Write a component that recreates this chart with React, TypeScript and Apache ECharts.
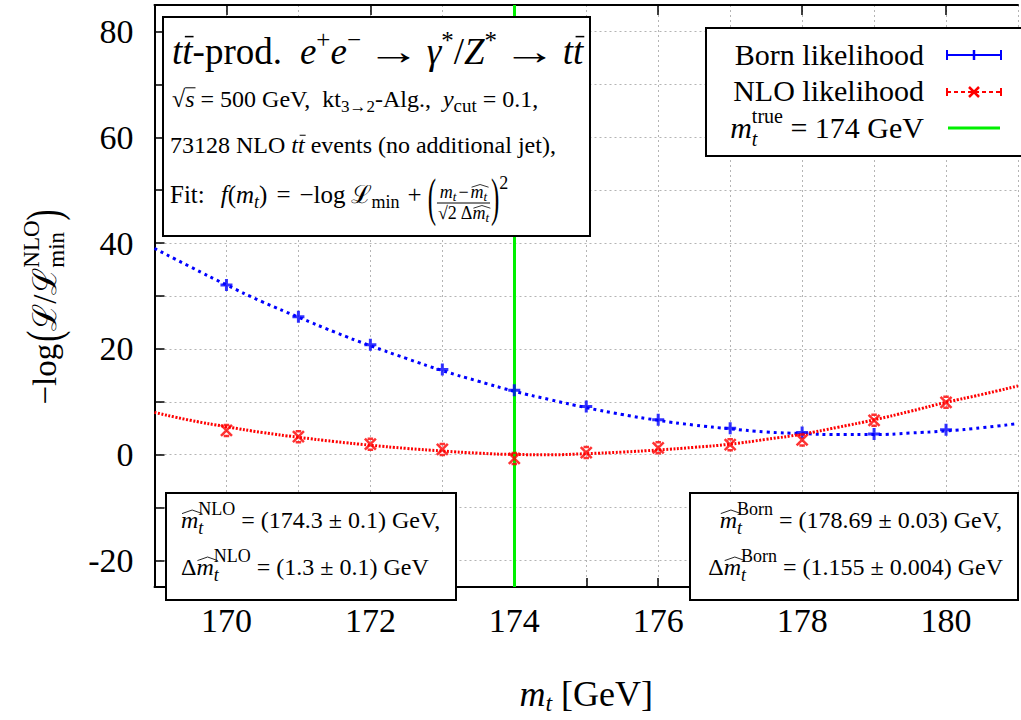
import React, { useEffect, useRef } from "react";
import * as echarts from "echarts";

// ---------------- data ----------------
const massPoints = [170, 171, 172, 173, 174, 175, 176, 177, 178, 179, 180];
const bornLikelihood = [32.1, 26.1, 20.8, 16.1, 12.2, 9.1, 6.6, 5.0, 4.2, 3.9, 4.7];
const nloLikelihood = [4.6, 3.4, 2.0, 1.0, -0.7, 0.4, 1.3, 1.9, 2.8, 6.5, 9.9];
const fitMass = [169, 169.5, 170, 170.5, 171, 171.5, 172, 172.5, 173, 173.5, 174, 174.5, 175, 175.5, 176, 176.5, 177, 177.5, 178, 178.5, 179, 179.5, 180, 180.5, 181];
const bornFit = [39.0, 35.5, 32.1, 28.9, 26.0, 23.2, 20.6, 18.2, 15.9, 13.9, 12.0, 10.4, 8.9, 7.6, 6.5, 5.6, 4.9, 4.3, 4.0, 3.8, 3.8, 4.1, 4.5, 5.1, 5.9];
const nloFit = [8.0, 6.5, 5.3, 4.2, 3.3, 2.5, 1.8, 1.2, 0.7, 0.3, 0.05, 0.0, 0.2, 0.5, 0.9, 1.4, 2.0, 2.9, 3.9, 5.2, 6.6, 8.2, 9.9, 11.4, 13.0];
const trueMass = 174;
const xTopTicks = [170, 172, 174, 176, 178, 180];
const yTickValues = [-20, -10, 0, 10, 20, 30, 40, 50, 60, 70, 80];
const yLabelValues = [-20, 0, 20, 40, 60, 80];

// ---------------- tiny typesetter ----------------
const FAM = '"Liberation Serif", "Times New Roman", "DejaVu Serif", serif';
const CENTRAL = 0.3375;
let measureCtx: CanvasRenderingContext2D | null = null;
const fontStr = (s: number, i?: boolean) => `${i ? "italic " : ""}${s}px ${FAM}`;
function measure(text: string, s: number, i?: boolean): number {
  if (!measureCtx) measureCtx = document.createElement("canvas").getContext("2d");
  measureCtx!.font = fontStr(s, i);
  return measureCtx!.measureText(text).width;
}

type Seg = any;
const T = (t: string, s: number, o: any = {}): Seg => ({ k: "t", t, s, ...o });
const I = (t: string, s: number, o: any = {}): Seg => ({ k: "t", t, s, i: true, ...o });
const SS = (s: number, o: any): Seg => ({ k: "ss", s, ...o });
const G = (w: number): Seg => ({ k: "gap", w });
const FR = (num: Seg[], den: Seg[], numDy: number, denDy: number, barDy: number): Seg => ({ k: "frac", num, den, numDy, denDy, barDy });

function segWidth(g: Seg): number {
  if (g.k === "t") return measure(g.t, g.s, g.i) * (g.sx || 1);
  if (g.k === "ss")
    return Math.max(g.sup ? measure(g.sup, g.s, g.supI) : 0, g.sub ? measure(g.sub, g.s, g.subI) : 0);
  if (g.k === "gap") return g.w;
  return Math.max(lineWidth(g.num), lineWidth(g.den)) + 4;
}
function lineWidth(segs: Seg[]): number {
  return segs.reduce((a, g) => a + segWidth(g), 0);
}
function textEl(text: string, x: number, base: number, s: number, italic: boolean | undefined, z: number, sx = 1, sy = 1) {
  return {
    type: "text",
    x,
    y: base - CENTRAL * s,
    scaleX: sx,
    scaleY: sy,
    z,
    silent: true,
    style: { text, font: fontStr(s, italic), fill: "#000", align: "left", verticalAlign: "middle" },
  };
}
function place(segs: Seg[], x: number, base: number, z: number, out: any[]): number {
  for (const g of segs) {
    const w = segWidth(g);
    if (g.k === "t") {
      const b = base + (g.dy || 0);
      out.push(textEl(g.t, x, b, g.s, g.i, z, g.sx || 1, g.sy || 1));
      if (g.bar) {
        const by = b - g.bar * g.s;
        out.push({
          type: "line", z, silent: true,
          shape: { x1: x + (g.barX0 || 0) * w, y1: by, x2: x + w + (g.barX1 || 0), y2: by },
          style: { stroke: "#000", lineWidth: Math.max(1, g.s / 24) },
        });
      }
      if (g.hat != null) {
        const hw = w + g.hat;
        const y0 = b - 0.6 * g.s;
        out.push({
          type: "polyline", z, silent: true,
          shape: { points: [[x + 1, y0], [x + 1 + hw / 2, y0 - 0.15 * g.s], [x + 1 + hw, y0]] },
          style: { stroke: "#000", fill: "none", lineWidth: Math.max(0.8, g.s / 28) },
        });
      }
    } else if (g.k === "ss") {
      if (g.sup) out.push(textEl(g.sup, x, base + g.supDy, g.s, g.supI, z));
      if (g.sub) out.push(textEl(g.sub, x, base + g.subDy, g.s, g.subI, z));
    } else if (g.k === "frac") {
      const wn = lineWidth(g.num);
      const wd = lineWidth(g.den);
      place(g.num, x + (w - wn) / 2, base + g.numDy, z, out);
      place(g.den, x + (w - wd) / 2, base + g.denDy, z, out);
      out.push({
        type: "line", z, silent: true,
        shape: { x1: x + 1, y1: base + g.barDy, x2: x + w - 1, y2: base + g.barDy },
        style: { stroke: "#000", lineWidth: 1 },
      });
    }
    x += w;
  }
  return x;
}
function typeset(segs: Seg[], x: number, base: number, align: string, z: number): any[] {
  const w = lineWidth(segs);
  const x0 = align === "right" ? x - w : align === "center" ? x - w / 2 : x;
  const out: any[] = [];
  place(segs, x0, base, z, out);
  return out;
}
const box = (x: number, y: number, w: number, h: number) => ({
  type: "rect", z: 20, silent: true,
  shape: { x, y, width: w, height: h },
  style: { fill: "#fff", stroke: "#000", lineWidth: 2 },
});

function buildGraphic(): any[] {
  const Z = 30;
  const els: any[] = [];
  // ---- top-left info box ----
  els.push(box(163, 17, 427, 219));
  const A = 37, a = 24, b = 24, bs = 17;
  const arrow = (s: number) => [G(6), T("→", s, { sx: 1.45 }), G(6)];
  els.push(
    ...typeset(
      [
        I("t", A), I("t", A, { bar: 0.74, barX0: 0.25, barX1: 1 }), T("-prod.", A), G(18),
        I("e", A), SS(25, { sup: "+", supDy: -16 }), I("e", A), SS(25, { sup: "−", supDy: -16 }),
        ...arrow(A), I("γ", A), SS(25, { sup: "*", supDy: -15 }), T("/", A), I("Z", A),
        SS(25, { sup: "*", supDy: -15 }), ...arrow(A), I("t", A), I("t", A, { bar: 0.74, barX0: 0.25, barX1: 1 }),
      ],
      172, 64, "left", Z
    )
  );
  els.push(
    ...typeset(
      [
        T("√", a), I("s", a, { bar: 0.8, barX0: 0, barX1: 1 }), T(" = 500 GeV,  kt", a),
        SS(bs, { sub: "3→2", subDy: 5 }), T("-Alg.,  ", a), I("y", a), SS(bs + 2, { sub: "cut", subDy: 5 }),
        T(" = 0.1,", a),
      ],
      172, 107, "left", Z
    )
  );
  els.push(
    ...typeset(
      [T("73128 NLO ", b), I("t", b), I("t", b, { bar: 0.74, barX0: 0.25, barX1: 1 }), T(" events (no additional jet),", b)],
      170, 153, "left", Z
    )
  );
  const f4 = 25, fs = 18;
  els.push(
    ...typeset(
      [
        T("Fit:", f4), G(16), I("f", f4), T("(", f4), I("m", f4), SS(fs, { sub: "t", subI: true, subDy: 5 }), T(")", f4),
        G(9), T("=", f4), G(9), T("−log", f4), G(5), T("ℒ", f4), SS(fs, { sub: "min", subDy: 5 }), G(8), T("+", f4), G(6),
        T("(", f4, { sy: 2.1, dy: 2.8 }),
        FR(
          [I("m", fs), SS(13, { sub: "t", subI: true, subDy: 3 }), G(2), T("−", fs), G(2), I("m", fs, { hat: 4 }), SS(13, { sub: "t", subI: true, subDy: 3 })],
          [T("√2", fs), G(4), T("Δ", fs), I("m", fs, { hat: 4 }), SS(13, { sub: "t", subI: true, subDy: 3 })],
          -5, 16, 0
        ),
        T(")", f4, { sy: 2.1, dy: 2.8 }), SS(fs, { sup: "2", supDy: -14 }),
      ],
      170, 203, "left", Z
    )
  );

  // ---- legend box ----
  els.push(box(706, 28, 330, 128));
  const L = 30;
  els.push(...typeset([T("Born likelihood", L)], 924, 65, "right", Z));
  els.push(...typeset([T("NLO likelihood", L)], 924, 100.5, "right", Z));
  els.push(
    ...typeset(
      [I("m", L), SS(20, { sup: "true", supDy: -15, sub: "t", subI: true, subDy: 8 }), T(" = 174 GeV", L)],
      924, 138, "right", Z
    )
  );
  const lx0 = 947, lx1 = 1001, lxm = 974;
  // Born sample
  els.push({ type: "line", z: Z, shape: { x1: lx0, y1: 55, x2: lx1, y2: 55 }, style: { stroke: "#0000ff", lineWidth: 2 } });
  els.push({ type: "line", z: Z, shape: { x1: lx0, y1: 50, x2: lx0, y2: 60 }, style: { stroke: "#0000ff", lineWidth: 2 } });
  els.push({ type: "line", z: Z, shape: { x1: lx1, y1: 50, x2: lx1, y2: 60 }, style: { stroke: "#0000ff", lineWidth: 2 } });
  els.push({ type: "line", z: Z, shape: { x1: lxm, y1: 50, x2: lxm, y2: 60 }, style: { stroke: "#0000ff", lineWidth: 2.5 } });
  // NLO sample
  els.push({ type: "line", z: Z, shape: { x1: lx0, y1: 92, x2: lx1, y2: 92 }, style: { stroke: "#ff0000", lineWidth: 2, lineDash: [4, 3] } });
  els.push({ type: "line", z: Z, shape: { x1: lx0, y1: 88, x2: lx0, y2: 96 }, style: { stroke: "#ff0000", lineWidth: 2 } });
  els.push({ type: "line", z: Z, shape: { x1: lx1, y1: 88, x2: lx1, y2: 96 }, style: { stroke: "#ff0000", lineWidth: 2 } });
  els.push({ type: "line", z: Z, shape: { x1: lxm - 5, y1: 87, x2: lxm + 5, y2: 97 }, style: { stroke: "#ff0000", lineWidth: 2.5 } });
  els.push({ type: "line", z: Z, shape: { x1: lxm + 5, y1: 87, x2: lxm - 5, y2: 97 }, style: { stroke: "#ff0000", lineWidth: 2.5 } });
  // true mass sample
  els.push({ type: "line", z: Z, shape: { x1: 948, y1: 128, x2: 1000, y2: 128 }, style: { stroke: "#00f000", lineWidth: 3 } });

  // ---- bottom-left box ----
  els.push(box(166, 493, 290, 107));
  const c = 24, cs = 18;
  els.push(
    ...typeset(
      [I("m", c, { hat: 3 }), SS(cs, { sup: "NLO", supDy: -13, sub: "t", subI: true, subDy: 6 }), T(" = (174.3 ± 0.1) GeV,", c)],
      181, 528, "left", Z
    )
  );
  els.push(
    ...typeset(
      [T("Δ", c), I("m", c, { hat: 3 }), SS(cs, { sup: "NLO", supDy: -13, sub: "t", subI: true, subDy: 6 }), T(" = (1.3 ± 0.1) GeV", c)],
      181, 575, "left", Z
    )
  );
  // ---- bottom-right box ----
  els.push(box(690, 493, 328, 107));
  els.push(
    ...typeset(
      [I("m", c, { hat: 3 }), SS(cs, { sup: "Born", supDy: -13, sub: "t", subI: true, subDy: 6 }), T(" = (178.69 ± 0.03) GeV,", c)],
      1002, 528, "right", Z
    )
  );
  els.push(
    ...typeset(
      [T("Δ", c), I("m", c, { hat: 3 }), SS(cs, { sup: "Born", supDy: -13, sub: "t", subI: true, subDy: 6 }), T(" = (1.155 ± 0.004) GeV", c)],
      1003, 575, "right", Z
    )
  );

  // ---- y-axis title (rotated) ----
  const Y = 33;
  els.push({
    type: "group",
    x: 56,
    y: 307,
    rotation: Math.PI / 2,
    children: typeset(
      [
        T("−log", Y), G(2), T("(", Y, { sy: 1.5, dy: -1 }), T("ℒ", Y), T("/", Y), T("ℒ", Y),
        SS(23, { sup: "NLO", supDy: -17, sub: "min", subDy: 8 }), T(")", Y, { sy: 1.5, dy: -1 }),
      ],
      0, 0, "center", Z
    ),
  });
  return els;
}

const PLUS = "path://M5,0L5,10M0,5L10,5";
const CROSS = "path://M0,0L10,10M10,0L0,10M2.5,0L7.5,0M2.5,10L7.5,10";

export default function App() {
  const ref = useRef<HTMLDivElement>(null);
  useEffect(() => {
    if (!ref.current) return;
    const chart = echarts.init(ref.current, null, { renderer: "svg" });
    const axisLine = { show: true, onZero: false, lineStyle: { color: "#000", width: 2 } };
    const gridLine = { show: true, lineStyle: { color: "#b4b4b4", width: 1, type: [2, 3] } };
    const tickRich = { n: { fontFamily: FAM, fontSize: 34, color: "#000", lineHeight: 36 } };
    const option: any = {
      animation: false,
      backgroundColor: "#fff",
      grid: { left: 154.5, top: 5, width: 874, height: 605, containLabel: false },
      xAxis: [
        {
          type: "value", min: 169, max: 181, interval: 1, position: "bottom",
          axisLine,
          axisTick: { show: true, inside: true, length: 9, lineStyle: { color: "#000", width: 1.5 } },
          axisLabel: {
            formatter: (v: number) => (v % 2 === 0 ? `{n|${v}}` : ""),
            rich: tickRich, fontFamily: FAM, fontSize: 34, color: "#000", margin: 15,
          },
          splitLine: gridLine,
          name: "{i|m}{s|t}{r| [GeV]}",
          nameLocation: "middle",
          nameGap: 86,
          nameTextStyle: {
            rich: {
              i: { fontFamily: FAM, fontStyle: "italic", fontSize: 36, lineHeight: 42, color: "#000" },
              s: { fontFamily: FAM, fontStyle: "italic", fontSize: 24, lineHeight: 24, verticalAlign: "bottom", color: "#000" },
              r: { fontFamily: FAM, fontSize: 36, lineHeight: 42, color: "#000" },
            },
          },
        },
        {
          type: "value", min: 169, max: 181, interval: 1, position: "top",
          axisLine,
          axisTick: { show: true, inside: true, length: 10, customValues: xTopTicks, lineStyle: { color: "#000", width: 1.5 } },
          axisLabel: { show: false },
          splitLine: { show: false },
        },
      ],
      yAxis: [
        {
          type: "value", min: -25, max: 85, position: "left",
          axisLine,
          axisTick: { show: true, inside: true, length: 10, customValues: yTickValues, lineStyle: { color: "#000", width: 1.5 } },
          axisLabel: {
            customValues: yLabelValues,
            formatter: (v: number) => `{n|${v}}`,
            rich: tickRich, fontFamily: FAM, fontSize: 34, color: "#000", margin: 21,
          },
          splitLine: gridLine,
        },
      ],
      series: [
        {
          name: "true mass", type: "line", data: [], z: 1,
          markLine: {
            silent: true, symbol: ["none", "none"], label: { show: false },
            lineStyle: { color: "#00f000", width: 3, type: "solid" },
            data: [{ xAxis: trueMass }],
          },
        },
        {
          name: "Born fit", type: "line", smooth: true, showSymbol: false, z: 3,
          data: fitMass.map((m, k) => [m, bornFit[k]]),
          lineStyle: { color: "#0000ff", width: 3, type: [3, 4] },
        },
        {
          name: "NLO fit", type: "line", smooth: true, showSymbol: false, z: 3,
          data: fitMass.map((m, k) => [m, nloFit[k]]),
          lineStyle: { color: "#ff0000", width: 3, type: [2, 1.6] },
        },
        {
          name: "Born likelihood", type: "scatter", symbol: PLUS, symbolSize: 12, z: 5,
          data: massPoints.map((m, k) => [m, bornLikelihood[k]]),
          itemStyle: { color: "#0000ff", borderColor: "#0000ff", borderWidth: 3 },
        },
        {
          name: "NLO likelihood", type: "scatter", symbol: CROSS, symbolSize: 11, z: 5,
          data: massPoints.map((m, k) => [m, nloLikelihood[k]]),
          itemStyle: { color: "#ff0000", borderColor: "#ff0000", borderWidth: 2.5 },
        },
      ],
      graphic: buildGraphic(),
    };
    chart.setOption(option);
    return () => chart.dispose();
  }, []);
  return <div ref={ref} style={{ position: "absolute", left: 0, top: 0, width: 1021, height: 720 }} />;
}
